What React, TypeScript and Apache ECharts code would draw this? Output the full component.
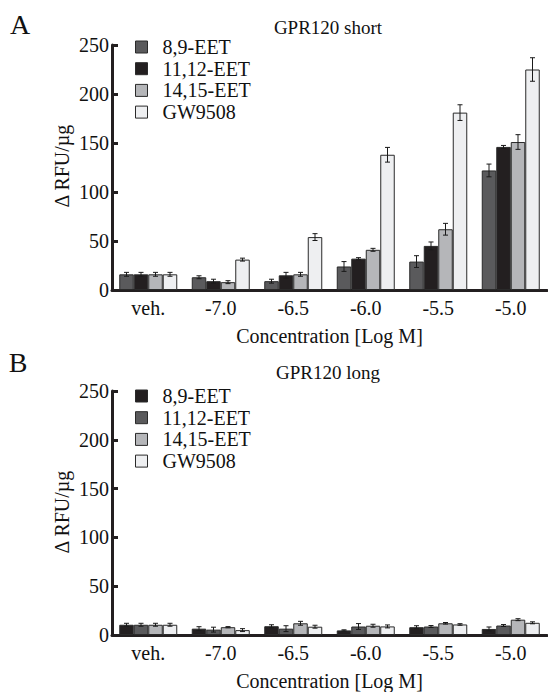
import React, { useEffect, useRef } from "react";
import * as echarts from "echarts";

const categories = ["veh.", "-7.0", "-6.5", "-6.0", "-5.5", "-5.0"];
const seriesNames = ["8,9-EET", "11,12-EET", "14,15-EET", "GW9508"];
const yTicks = { min: 0, max: 250, interval: 50 };

// Panel A: GPR120 short
const eet89A = [16, 13, 9, 24, 29, 122];
const eet1112A = [16, 9, 15, 32, 45, 146];
const eet1415A = [16, 8, 16, 41, 62, 151];
const gwA = [16, 31, 54, 138, 181, 225];
const eet89AErr = [2, 1.5, 2, 5, 6, 6.5];
const eet1112AErr = [2, 2, 3, 1, 4, 1.5];
const eet1415AErr = [2, 1.5, 2, 1.5, 6, 7.5];
const gwAErr = [2, 1.5, 3.5, 7.5, 8, 12];

// Panel B: GPR120 long
const eet89B = [10.5, 6.5, 9, 4.7, 8, 6.2];
const eet1112B = [10.5, 5.5, 6.5, 8.7, 8.7, 9.7];
const eet1415B = [10.5, 8, 12, 9.5, 12, 15.7];
const gwB = [10.5, 5, 8.5, 8.8, 10.8, 12.5];
const eet89BErr = [1.5, 2, 1.5, 0.6, 1.5, 2];
const eet1112BErr = [1.5, 2.5, 3, 3, 1, 1];
const eet1415BErr = [1.5, 0.6, 2, 1.5, 0.8, 1];
const gwBErr = [1.5, 1.5, 1.5, 1.5, 0.8, 1];

const DARK = "#5a5a5c";
const BLACK = "#231f20";
const LIGHT = "#b5b6b9";
const WHITE = "#eeeff1";
const colorsA = [DARK, BLACK, LIGHT, WHITE];
const colorsB = [BLACK, DARK, LIGHT, WHITE];

const FONT = "'Liberation Serif', 'Times New Roman', 'DejaVu Serif', serif";

export default function App() {
  const ref = useRef<HTMLDivElement>(null);
  useEffect(() => {
    document.body.style.margin = "0";
    if (!ref.current) return;
    const chart = echarts.init(ref.current, undefined, { renderer: "svg" });

    const valuesA = [eet89A, eet1112A, eet1415A, gwA];
    const errsA = [eet89AErr, eet1112AErr, eet1415AErr, gwAErr];
    const valuesB = [eet89B, eet1112B, eet1415B, gwB];
    const errsB = [eet89BErr, eet1112BErr, eet1415BErr, gwBErr];

    const barSeries = (name: string, data: number[], color: string, axis: number) => ({
      type: "bar",
      name,
      xAxisIndex: axis,
      yAxisIndex: axis,
      data,
      barGap: "0%",
      barCategoryGap: "20%",
      itemStyle: { color, borderColor: "#2a2a2a", borderWidth: 1 },
      z: 2,
    });

    const errSeries = (values: number[], errs: number[], idx: number, axis: number) => ({
      type: "custom",
      name: "err" + axis + "_" + idx,
      xAxisIndex: axis,
      yAxisIndex: axis,
      silent: true,
      z: 5,
      data: values.map((v, i) => [i, v, errs[i]]),
      renderItem: (params: any, api: any) => {
        const i = api.value(0);
        const v = api.value(1);
        const e = api.value(2);
        const band = api.size([1, 0])[0];
        const bw = (band * 0.8) / 4;
        const cx = api.coord([i, v])[0] + (idx - 1.5) * bw;
        const yTop = api.coord([i, v + e])[1];
        const yBot = api.coord([i, Math.max(v - e, 0)])[1];
        const cap = 2.5;
        const st = { stroke: "#1a1a1a", lineWidth: 1 };
        return {
          type: "group",
          children: [
            { type: "line", shape: { x1: cx, y1: yTop, x2: cx, y2: yBot }, style: st },
            { type: "line", shape: { x1: cx - cap, y1: yTop, x2: cx + cap, y2: yTop }, style: st },
            { type: "line", shape: { x1: cx - cap, y1: yBot, x2: cx + cap, y2: yBot }, style: st },
          ],
        };
      },
    });

    const series: any[] = [];
    seriesNames.forEach((n, k) => series.push(barSeries(n, valuesA[k], colorsA[k], 0)));
    seriesNames.forEach((n, k) => series.push(barSeries(n, valuesB[k], colorsB[k], 1)));
    seriesNames.forEach((n, k) => series.push(errSeries(valuesA[k], errsA[k], k, 0)));
    seriesNames.forEach((n, k) => series.push(errSeries(valuesB[k], errsB[k], k, 1)));

    const xAxis = (gridIndex: number) => ({
      type: "category",
      gridIndex,
      data: categories,
      boundaryGap: true,
      axisLine: { show: true, lineStyle: { color: BLACK, width: 3 } },
      axisTick: { show: false },
      axisLabel: { fontFamily: FONT, fontSize: 20, color: "#111", margin: 8 },
      name: "Concentration [Log M]",
      nameLocation: "middle",
      nameGap: 36,
      nameTextStyle: { fontFamily: FONT, fontSize: 20, color: "#111" },
    });
    const yAxis = (gridIndex: number) => ({
      type: "value",
      gridIndex,
      min: yTicks.min,
      max: yTicks.max,
      interval: yTicks.interval,
      axisLine: { show: true, lineStyle: { color: BLACK, width: 3 } },
      axisTick: { show: true, inside: true, length: 6, lineStyle: { color: BLACK, width: 3 } },
      axisLabel: { fontFamily: FONT, fontSize: 20, color: "#111", margin: 3 },
      splitLine: { show: false },
    });

    const legend = (top: number, colors: string[]) => ({
      orient: "vertical",
      left: 135,
      top,
      padding: 0,
      itemWidth: 12,
      itemHeight: 12,
      itemGap: 1.7,
      icon: "rect",
      selectedMode: false,
      textStyle: { fontFamily: FONT, fontSize: 20, color: "#111", lineHeight: 20, padding: [0, 0, 0, 10] },
      data: seriesNames.map((n, k) => ({
        name: n,
        itemStyle: { color: colors[k], borderColor: "#2a2a2a", borderWidth: 1 },
      })),
    });

    const txt = (text: string, size: number) => ({
      text,
      fontFamily: FONT,
      fontSize: size,
      fill: "#111",
      align: "center",
      verticalAlign: "middle",
    });

    chart.setOption({
      animation: false,
      backgroundColor: "#ffffff",
      textStyle: { fontFamily: FONT },
      grid: [
        { left: 112, right: 1, top: 45, height: 245 },
        { left: 112, right: 1, top: 391, height: 246 },
      ],
      xAxis: [xAxis(0), xAxis(1)],
      yAxis: [yAxis(0), yAxis(1)],
      legend: [legend(37, colorsA), legend(386, colorsB)],
      graphic: [
        { type: "text", x: 20, y: 24, style: txt("A", 28) },
        { type: "text", x: 18, y: 362, style: txt("B", 28) },
        { type: "text", x: 328, y: 27, style: txt("GPR120 short", 19) },
        { type: "text", x: 328, y: 372, style: txt("GPR120 long", 19) },
        { type: "text", x: 62, y: 166, rotation: Math.PI / 2, style: txt("Δ RFU/µg", 20) },
        { type: "text", x: 62, y: 512, rotation: Math.PI / 2, style: txt("Δ RFU/µg", 20) },
      ],
      series,
    });
    return () => chart.dispose();
  }, []);
  return <div ref={ref} style={{ width: 548, height: 692 }} />;
}
